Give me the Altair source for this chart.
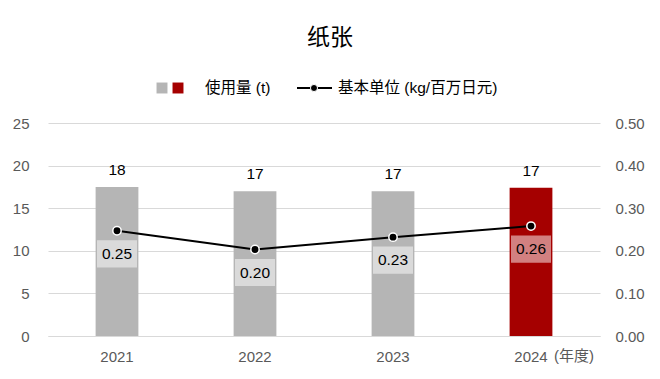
import altair as alt
import pandas as pd

years = ["2021", "2022", "2023", "2024"]
usage = [17.5, 17.0, 17.0, 17.4]
intensity = [0.247, 0.203, 0.232, 0.258]
bar_colors = ["#b5b5b5", "#b5b5b5", "#b5b5b5", "#a50000"]

title_text = "纸张"
legend_bar = "使用量 (t)"
legend_line = "基本单位 (kg/百万日元)"
year_unit = "(年度)"

FONT = "Liberation Sans, Noto Sans CJK JP, sans-serif"

df = pd.DataFrame({"year": years, "usage": usage, "intensity": intensity, "color": bar_colors})

W, H = 552, 213

x = alt.X("year:N", scale=alt.Scale(paddingInner=0.69, paddingOuter=0.345),
          axis=alt.Axis(title=None, labelAngle=0, labelFontSize=15, labelColor="#595959",
                        labelFont=FONT, ticks=False, domainColor="#d9d9d9", labelPadding=13))

base = alt.Chart(df)

bars = base.mark_bar().encode(
    x=x,
    y=alt.Y("usage:Q", scale=alt.Scale(domain=[0, 25], nice=False),
            axis=alt.Axis(title=None, values=[0, 5, 10, 15, 20, 25], labelFontSize=15,
                          labelColor="#595959", labelFont=FONT, ticks=False, domain=False,
                          gridColor="#d9d9d9", labelPadding=19)),
    color=alt.Color("color:N", scale=None),
)
bar_text = base.mark_text(dy=-17, fontSize=15.5, font=FONT, color="#000000").encode(
    x=x, y="usage:Q", text=alt.Text("usage:Q", format=".0f"))

left = alt.layer(bars, bar_text)

yline = alt.Y("intensity:Q", scale=alt.Scale(domain=[0, 0.5], nice=False),
              axis=alt.Axis(title=None, orient="right", values=[0, 0.1, 0.2, 0.3, 0.4, 0.5],
                            format=".2f", labelFontSize=15, labelColor="#595959", labelFont=FONT,
                            ticks=False, domain=False, grid=False, labelPadding=15))

line = base.mark_line(color="#000000", strokeWidth=2).encode(x=x, y=yline)
pts = base.mark_point(filled=True, fill="#000000", stroke="#ffffff", strokeWidth=1.5,
                      size=70, opacity=1).encode(x=x, y=yline)
boxes = base.mark_point(shape="M-1,-0.68L1,-0.68L1,0.68L-1,0.68Z", size=1600, filled=True,
                        fill="#ffffff", fillOpacity=0.5, strokeWidth=0, yOffset=23).encode(x=x, y=yline)
box_text = base.mark_text(fontSize=15.5, font=FONT, color="#000000", dy=23).encode(
    x=x, y=yline, text=alt.Text("intensity:Q", format=".2f"))

right = alt.layer(line, pts, boxes, box_text)

deco_df = pd.DataFrame({"k": [0]})
deco = alt.Chart(deco_df)

title = deco.mark_text(text=title_text, fontSize=23, font=FONT, color="#000000",
                       align="center", baseline="middle").encode(
    x=alt.value(282), y=alt.value(-85))

sq_gray = deco.mark_square(color="#b5b5b5", size=120, opacity=1).encode(
    x=alt.value(114), y=alt.value(-35))
sq_red = deco.mark_square(color="#a50000", size=120, opacity=1).encode(
    x=alt.value(130), y=alt.value(-35))
leg_text1 = deco.mark_text(text=legend_bar, fontSize=15.5, font=FONT, color="#000000",
                           align="left", baseline="middle").encode(
    x=alt.value(157), y=alt.value(-35))
leg_rule = deco.mark_rule(color="#000000", strokeWidth=2).encode(
    x=alt.value(249), x2=alt.value(284), y=alt.value(-35))
leg_dot = deco.mark_point(filled=True, fill="#000000", stroke="#ffffff", strokeWidth=1,
                          size=50, opacity=1).encode(x=alt.value(266), y=alt.value(-35))
leg_text2 = deco.mark_text(text=legend_line, fontSize=15.5, font=FONT, color="#000000",
                           align="left", baseline="middle").encode(
    x=alt.value(290), y=alt.value(-35))
unit = deco.mark_text(text=year_unit, fontSize=15, font=FONT, color="#595959",
                      align="left", baseline="top").encode(
    x=alt.value(506), y=alt.value(H + 13))

decor = alt.layer(title, sq_gray, sq_red, leg_text1, leg_rule, leg_dot, leg_text2, unit)

chart = alt.layer(left, right, decor).resolve_scale(y="independent").properties(
    width=W, height=H,
    autosize=alt.AutoSizeParams(type="none"),
    padding={"left": 40, "top": 115, "right": 52, "bottom": 35},
    background="#ffffff",
).configure_view(stroke=None)

chart.save("out.html", embed_options={"renderer": "svg", "actions": False})
